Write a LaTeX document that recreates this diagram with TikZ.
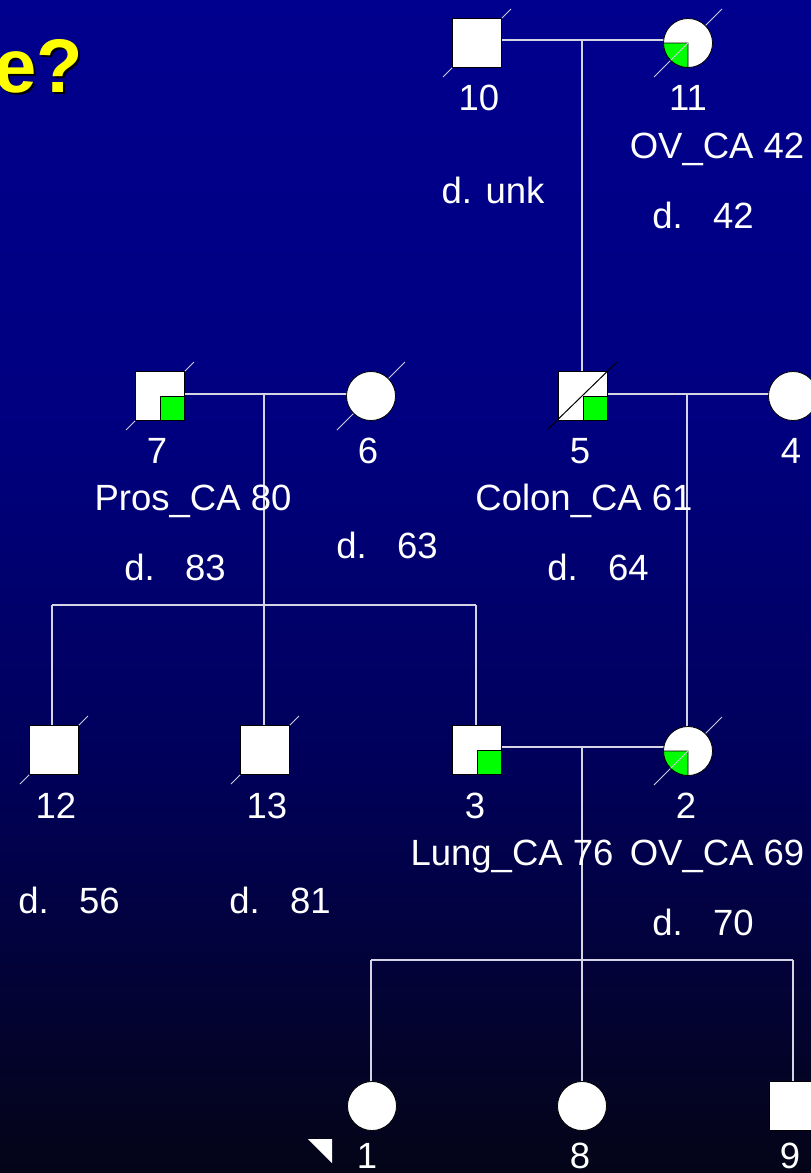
\documentclass[tikz,border=0pt]{standalone}
\usepackage{fontspec}
\setmainfont{Liberation Sans}

\definecolor{bgtop}{RGB}{0,0,142}
\definecolor{bgupper}{RGB}{0,0,128}
\definecolor{bglower}{RGB}{0,0,90}
\definecolor{bgnear}{RGB}{4,4,32}
\definecolor{bgbot}{RGB}{4,4,24}
\definecolor{linecol}{RGB}{212,212,228}
\definecolor{diagcol}{RGB}{205,205,225}
\definecolor{affgreen}{RGB}{0,255,0}
\definecolor{titleyellow}{RGB}{255,255,0}

% vertical background ramp: 25bp = bottom edge, 75bp = top edge
\pgfdeclareverticalshading{pedbg}{100bp}{%
  color(0bp)=(bgbot); color(25bp)=(bgbot); color(27.3bp)=(bgnear);
  color(42.4bp)=(bglower); color(57.3bp)=(bgupper);
  color(75bp)=(bgtop); color(100bp)=(bgtop)}

\pgfdeclarelayer{bg}
\pgfdeclarelayer{lines}
\pgfsetlayers{bg,lines,main}

\newcommand\pedfont{\fontsize{36.5}{40}\selectfont}
\newcommand\headfont{\bfseries\fontsize{76}{80}\selectfont}

\begin{document}
\begin{tikzpicture}[x=1pt,y=1pt,
  male/.style={rectangle,draw=black,fill=white,line width=0.8pt,minimum size=49pt,inner sep=0pt,outer sep=0pt},
  female/.style={circle,draw=black,fill=white,line width=0.8pt,minimum size=49pt,inner sep=0pt,outer sep=0pt},
  conn/.style={draw=linecol,line width=1.1pt},
  dline/.style={draw=diagcol,line width=1pt},
  lbl/.style={text=white,font=\pedfont,anchor=base,inner sep=0pt},
  affq/.style={fill=affgreen,draw=black,line width=0.8pt}]

\useasboundingbox (0,-1173) rectangle (811,0);
\clip (0,-1173) rectangle (811,0);

\begin{pgfonlayer}{bg}
  \shade[shading=pedbg] (0,-1173) rectangle (811,0);
\end{pgfonlayer}

% heading fragment with drop shadow
\node[anchor=base east,inner sep=0pt,font=\headfont,text=black] (headshadow) at (85.5,-94.5) {e?};
\node[anchor=base east,inner sep=0pt,font=\headfont,text=titleyellow] (head) at (83,-92) {e?};

% individuals
\node[male]   (n10) at (477,-43)   {};
\node[female] (n11) at (688,-43)   {};
\node[male]   (n7)  at (160,-396)  {};
\node[female] (n6)  at (371,-396)  {};
\node[male]   (n5)  at (583,-396)  {};
\node[female] (n4)  at (793,-396)  {};
\node[male]   (n12) at (54,-750)   {};
\node[male]   (n13) at (265,-750)  {};
\node[male]   (n3)  at (477,-750)  {};
\node[female] (n2)  at (688,-751)  {};
\node[female] (n1)  at (372,-1106) {};
\node[female] (n8)  at (582,-1106) {};
\node[male]   (n9)  at (794,-1106) {};

% affected quadrants
\path[affq] (n7.center) rectangle (n7.south east);
\path[affq] (n5.center) rectangle (n5.south east);
\path[affq] (n3.center) rectangle (n3.south east);
\path[affq] (n11.center) -- ++(-24.5,0) arc[start angle=180,end angle=270,radius=24.5] -- cycle;
\path[affq] (n2.center) -- ++(-24.5,0) arc[start angle=180,end angle=270,radius=24.5] -- cycle;

% deceased strokes
\begin{pgfonlayer}{lines}
  \foreach \p in {n10,n11,n7,n6,n12,n13,n2}
    \draw[dline] ([shift={(-34,-34)}]\p.center) -- ([shift={(34,34)}]\p.center);
\end{pgfonlayer}
\draw[dline] (n11.center) -- ++(225:24.5);
\draw[dline] (n2.center) -- ++(225:24.5);
\draw[black,line width=1pt] ([shift={(-35,-33)}]n5.center) -- ([shift={(34,34)}]n5.center);

% relationship and descent lines
\coordinate (m1) at (582,-40);
\coordinate (m2) at (264,-394);
\coordinate (s2) at (264,-605);
\coordinate (m3) at (687,-394);
\coordinate (m4) at (582,-747);
\coordinate (s4) at (582,-960);
\begin{pgfonlayer}{lines}
  \draw[conn] ([yshift=3]n10.center) -- ([yshift=3]n11.center);
  \draw[conn] (m1) -- (m1 |- n5.north);
  \draw[conn] ([yshift=2]n7.center) -- ([yshift=2]n6.center);
  \draw[conn] (m2) -- (s2);
  \draw[conn] ([xshift=-2]n12.north |- s2) -- ([xshift=-1]n3.north |- s2);
  \draw[conn] ([xshift=-2]n12.north |- s2) -- ([xshift=-2]n12.north);
  \draw[conn] ([xshift=-1]n13.north |- s2) -- ([xshift=-1]n13.north);
  \draw[conn] ([xshift=-1]n3.north |- s2) -- ([xshift=-1]n3.north);
  \draw[conn] ([yshift=2]n5.center) -- ([yshift=2]n4.center);
  \draw[conn] (m3) -- (m3 |- n2.north);
  \draw[conn] (n3.center |- m4) -- (n2.center |- m4);
  \draw[conn] (m4) -- (s4);
  \draw[conn] ([xshift=-1]n1.north |- s4) -- ([xshift=-1]n9.north |- s4);
  \draw[conn] ([xshift=-1]n1.north |- s4) -- ([xshift=-1]n1.north);
  \draw[conn] (s4) -- (n8.north);
  \draw[conn] ([xshift=-1]n9.north |- s4) -- ([xshift=-1]n9.north);
\end{pgfonlayer}

% proband marker
\fill[white] (308,-1139) -- (332,-1139) -- (332,-1163) -- cycle;

% labels
\node[lbl] (l10) at (479,-110) {10};
\node[lbl] (l11) at (688,-110) {11};
\node[lbl] (c11) at (717,-158) {OV\_CA 42};
\node[lbl] (d10) at (493,-203) {d. unk};
\node[lbl] (d11) at (703,-228) {d.\ \ \ 42};

\node[lbl] (l7) at (157,-463) {7};
\node[lbl] (l6) at (368,-463) {6};
\node[lbl] (l5) at (580,-463) {5};
\node[lbl] (l4) at (791,-463) {4};
\node[lbl] (c7) at (193,-510) {Pros\_CA 80};
\node[lbl] (c5) at (584,-510) {Colon\_CA 61};
\node[lbl] (d7) at (175,-580) {d.\ \ \ 83};
\node[lbl] (d6) at (387,-558) {d.\ \ \ 63};
\node[lbl] (d5) at (598,-580) {d.\ \ \ 64};

\node[lbl] (l12) at (56,-818)  {12};
\node[lbl] (l13) at (267,-818) {13};
\node[lbl] (l3)  at (475,-818) {3};
\node[lbl] (l2)  at (686,-818) {2};
\node[lbl] (c3)  at (512,-865) {Lung\_CA 76};
\node[lbl] (c2)  at (717,-865) {OV\_CA 69};
\node[lbl] (d12) at (69,-913)  {d.\ \ \ 56};
\node[lbl] (d13) at (280,-913) {d.\ \ \ 81};
\node[lbl] (d2)  at (703,-935) {d.\ \ \ 70};

\node[lbl] (l1) at (367,-1168) {1};
\node[lbl] (l8) at (580,-1168) {8};
\node[lbl] (l9) at (790,-1168) {9};
\end{tikzpicture}
\end{document}
